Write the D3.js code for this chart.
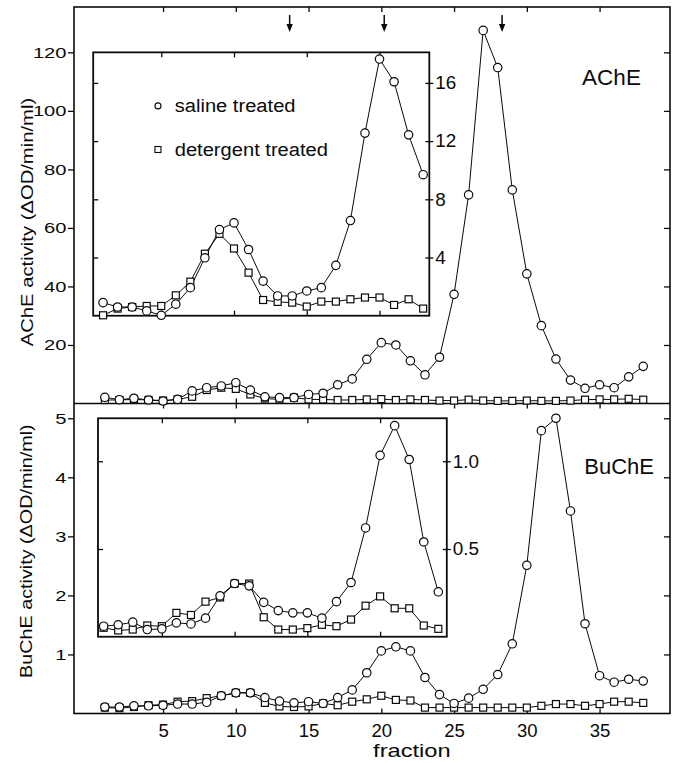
<!DOCTYPE html>
<html>
<head>
<meta charset="utf-8">
<script src="https://cdn.jsdelivr.net/npm/d3@7"></script>
<style>
  html, body { margin: 0; padding: 0; background: #fff; }
  svg { display: block; font-family: "Liberation Sans", Arial, Helvetica, sans-serif; }
</style>
</head>
<body>
<svg id="chart" width="676" height="763"></svg>
<script>
// ---- data -------------------------------------------------------------
const fraction = [1,2,3,4,5,6,7,8,9,10,11,12,13,14,15,16,17,18,19,20,
                  21,22,23,24,25,26,27,28,29,30,31,32,33,34,35,36,37,38];

// AChE, main panel (ΔOD/min/ml)
const acheSaline = [2.1,1.3,1.8,1.2,0.85,1.4,4.3,5.4,6.0,7.1,4.6,2.3,2.0,2.0,3.1,3.5,6.4,8.4,15.1,20.8,
                    20.0,14.6,9.8,15.8,37.3,71.3,127.5,114.8,73.0,44.3,26.6,15.2,8.0,5.2,6.4,5.4,9.1,12.7];
const acheDetergent = [1.2,1.2,1.4,1.2,1.0,1.4,2.3,4.6,5.4,5.0,3.1,1.7,1.4,2.0,1.4,1.4,1.2,1.2,1.4,1.5,
                       1.2,1.4,1.2,1.0,1.0,1.3,1.0,0.9,0.9,1.0,0.9,0.9,1.0,1.3,1.4,1.4,1.6,1.3];

// AChE, inset (right-hand scale)
const acheInsetFraction = [1,2,3,4,5,6,7,8,9,10,11,12,13,14,15,16,17,18,19,20,21,22,23];
const acheInsetSaline = [0.90,0.60,0.60,0.33,0.03,0.79,1.93,3.98,5.92,6.38,4.55,2.38,1.36,1.36,1.70,1.93,
                         3.46,6.54,12.55,17.64,16.08,12.43,9.69];
const acheInsetDetergent = [0.03,0.49,0.60,0.67,0.67,1.40,2.34,4.26,5.63,4.62,2.96,1.08,0.95,0.90,0.63,0.97,
                            0.97,1.13,1.25,1.25,0.74,1.13,0.49];

// BuChE, main panel
const bucheSaline = [0.11,0.11,0.13,0.13,0.14,0.16,0.16,0.19,0.30,0.35,0.35,0.27,0.21,0.18,0.20,0.17,0.27,0.40,0.69,1.06,
                     1.13,1.06,0.61,0.32,0.17,0.26,0.41,0.66,1.18,2.51,4.79,5.00,3.43,1.52,0.64,0.53,0.58,0.55];
const bucheDetergent = [0.10,0.09,0.11,0.14,0.15,0.20,0.21,0.26,0.30,0.35,0.35,0.18,0.12,0.11,0.12,0.17,0.14,0.20,0.24,0.30,
                        0.23,0.22,0.10,0.10,0.10,0.10,0.10,0.10,0.10,0.10,0.13,0.16,0.16,0.13,0.16,0.20,0.20,0.18];

// BuChE, inset (right-hand scale)
const bucheInsetFraction = [1,2,3,4,5,6,7,8,9,10,11,12,13,14,15,16,17,18,19,20,21,22,23,24];
const bucheInsetSaline = [0.060,0.068,0.083,0.041,0.045,0.079,0.073,0.106,0.233,0.303,0.290,0.196,0.149,0.136,0.136,0.106,
                          0.200,0.309,0.620,1.034,1.203,1.010,0.540,0.256];
const bucheInsetDetergent = [0.051,0.036,0.041,0.064,0.060,0.136,0.124,0.200,0.224,0.303,0.303,0.111,0.041,0.041,0.049,0.068,
                             0.060,0.098,0.177,0.230,0.162,0.162,0.064,0.045];

// axis ticks and markers
const fractionTicks = [5,10,15,20,25,30,35];
const insetFractionTicks = [5,10,15,20];
const acheTicks = [20,40,60,80,100,120];
const bucheTicks = [1,2,3,4,5];
const acheInsetTicks = [4,8,12,16];
const bucheInsetTicks = [0.5,1.0];
const bucheInsetTickLabels = ["0.5","1.0"];
const arrowFractions = [13.7,20.2,28.3];
const legendLabels = ["saline treated","detergent treated"];

// ---- layout -----------------------------------------------------------
const svg = d3.select("#chart");
const L = 74, R = 670, T = 7, M = 403.5, B = 713.5;
const ink = "#0a0a0a";

const x = d3.scaleLinear().domain([-1.12, 39.84]).range([L, R]);
const yA = d3.scaleLinear().domain([0, 135.5]).range([M, T]);
const yB = d3.scaleLinear().domain([0, 5.25]).range([B, M]);

// insets: frame given in main-panel units, inner scales on their own domains
const insetA = { f0: 0.2, f1: 23.3, v0: 30, v1: 120, y: yA, max: 18.1, shift: -1.8 };
const insetB = { f0: 0.53, f1: 24.5, v0: 1.3, v1: 5.0, y: yB, max: 1.245, shift: -1.2 };

// widen glyphs horizontally around each label's anchor point
function stretch(sel, sx) {
  sel.each(function () {
    const t = d3.select(this);
    const tx = +t.attr("x") || 0, ty = +t.attr("y") || 0;
    t.attr("x", 0).attr("y", 0).attr("transform", `translate(${tx},${ty}) scale(${sx},1)`);
  });
}

function styleAxis(g) {
  g.select(".domain").remove();
  g.selectAll(".tick line").attr("stroke", ink).attr("stroke-width", 1.3);
  g.selectAll("text").attr("fill", ink).attr("font-family", null);
}

// ---- main frame and axes --------------------------------------------
const gAxes = svg.append("g");

// upper panel left (labelled) and right (inner) ticks
gAxes.append("g").attr("transform", `translate(${L},0)`)
  .call(d3.axisLeft(yA).tickValues(acheTicks).tickSize(6).tickPadding(1.5).tickFormat(d3.format("d")))
  .call(styleAxis)
  .call(g => g.selectAll("text").attr("font-size", 15.5).call(stretch, 1.3));
gAxes.append("g").attr("transform", `translate(${R},0)`)
  .call(d3.axisRight(yA).tickValues(acheTicks).tickSize(-6).tickFormat(""))
  .call(styleAxis);

// lower panel left and right ticks
gAxes.append("g").attr("transform", `translate(${L},0)`)
  .call(d3.axisLeft(yB).tickValues(bucheTicks).tickSize(6).tickPadding(1.5).tickFormat(d3.format("d")))
  .call(styleAxis)
  .call(g => g.selectAll("text").attr("font-size", 15.5).call(stretch, 1.3));
gAxes.append("g").attr("transform", `translate(${R},0)`)
  .call(d3.axisRight(yB).tickValues(bucheTicks).tickSize(-6).tickFormat(""))
  .call(styleAxis);

// top, divider and bottom fraction ticks
gAxes.append("g").attr("transform", `translate(0,${T})`)
  .call(d3.axisTop(x).tickValues(fractionTicks).tickSize(-5).tickFormat(""))
  .call(styleAxis);
gAxes.append("g").attr("transform", `translate(0,${M})`)
  .call(d3.axisTop(x).tickValues(fractionTicks).tickSize(5).tickFormat(""))
  .call(styleAxis);
gAxes.append("g").attr("transform", `translate(0,${M})`)
  .call(d3.axisBottom(x).tickValues(fractionTicks).tickSize(5).tickFormat(""))
  .call(styleAxis);
gAxes.append("g").attr("transform", `translate(0,${B})`)
  .call(d3.axisBottom(x).tickValues(fractionTicks).tickSize(-5).tickPadding(10).tickFormat(d3.format("d")))
  .call(styleAxis)
  .call(g => g.selectAll("text").attr("font-size", 18.5));

// frame
svg.append("rect").attr("x", L).attr("y", T).attr("width", R - L).attr("height", B - T)
  .attr("fill", "none").attr("stroke", ink).attr("stroke-width", 1.6);
svg.append("line").attr("x1", L).attr("x2", R).attr("y1", M).attr("y2", M)
  .attr("stroke", ink).attr("stroke-width", 1.6);

// axis titles
svg.append("text").attr("font-size", 16.2).attr("fill", ink)
  .attr("text-anchor", "middle")
  .attr("transform", `translate(33,${yA(62)}) rotate(-90) scale(1.25,1)`)
  .text("AChE activity (ΔOD/min/ml)");
svg.append("text").attr("font-size", 16.2).attr("fill", ink)
  .attr("text-anchor", "middle")
  .attr("transform", `translate(32,${yB(2.75)}) rotate(-90) scale(1.22,1)`)
  .text("BuChE activity (ΔOD/min/ml)");
svg.append("text").attr("font-size", 18.5).attr("fill", ink)
  .attr("text-anchor", "middle")
  .attr("transform", `translate(${x(22.1)},757) scale(1.28,1)`)
  .text("fraction");

// panel names
svg.append("text").attr("font-size", 22.5).attr("fill", ink)
  .attr("x", x(33.8)).attr("y", yA(109)).text("AChE");
svg.append("text").attr("font-size", 22).attr("fill", ink)
  .attr("x", x(33.95)).attr("y", yB(4.06)).text("BuChE");

// arrows above the upper panel
const arrows = svg.append("g").attr("fill", ink).attr("stroke", ink);
arrowFractions.forEach(f => {
  const ax = x(f);
  arrows.append("line").attr("x1", ax).attr("x2", ax).attr("y1", 15).attr("y2", 26).attr("stroke-width", 1.5);
  arrows.append("path").attr("stroke", "none")
    .attr("d", `M${ax - 3.2},${24} L${ax + 3.2},${24} L${ax},${32} Z`);
});

// ---- series drawing --------------------------------------------------
function drawSeries(g, xs, ys, fr, vals) {
  const pts = fr.map((f, i) => ({ f, v: vals[i] }));
  g.append("path").datum(pts)
    .attr("fill", "none").attr("stroke", ink).attr("stroke-width", 1)
    .attr("d", d3.line().x(d => xs(d.f)).y(d => ys(d.v)));
  return pts;
}
function drawMarkers(g, xs, ys, pts, shape) {
  if (shape === "circle") {
    g.selectAll(null).data(pts).enter().append("circle")
      .attr("cx", d => xs(d.f)).attr("cy", d => ys(d.v)).attr("r", 4.2)
      .attr("fill", "#fff").attr("stroke", ink).attr("stroke-width", 1.2);
  } else {
    g.selectAll(null).data(pts).enter().append("rect")
      .attr("x", d => xs(d.f) - 3.5).attr("y", d => ys(d.v) - 3.5)
      .attr("width", 7).attr("height", 7)
      .attr("fill", "#fff").attr("stroke", ink).attr("stroke-width", 1.2);
  }
}

function panel(ys, saline, detergent) {
  const g = svg.append("g");
  const pd = drawSeries(g, x, ys, fraction, detergent);
  const ps = drawSeries(g, x, ys, fraction, saline);
  drawMarkers(g, x, ys, pd, "square");
  drawMarkers(g, x, ys, ps, "circle");
}
panel(yA, acheSaline, acheDetergent);
panel(yB, bucheSaline, bucheDetergent);

// ---- insets ----------------------------------------------------------
function inset(cfg, fr, saline, detergent, ticks, tickLabels) {
  const x0 = x(cfg.f0), x1 = x(cfg.f1);
  const y0 = cfg.y(cfg.v0), y1 = cfg.y(cfg.v1);
  const xi = d3.scaleLinear().domain(x.domain()).range(x.range().map(r => r + cfg.shift));
  const yi = d3.scaleLinear().domain([0, cfg.max]).range([y0, y1]);
  const g = svg.append("g");

  g.append("rect").attr("x", x0).attr("y", y1).attr("width", x1 - x0).attr("height", y0 - y1)
    .attr("fill", "#fff").attr("stroke", ink).attr("stroke-width", 1.8);

  const axisR = d3.axisRight(yi).tickValues(ticks).tickSize(4).tickPadding(2);
  axisR.tickFormat(tickLabels ? (d, i) => tickLabels[i] : d3.format("d"));
  g.append("g").attr("transform", `translate(${x1},0)`).call(axisR).call(styleAxis)
    .call(s => s.selectAll("text").attr("font-size", 18).call(stretch, 1.05));
  g.append("g").attr("transform", `translate(${x1},0)`)
    .call(d3.axisLeft(yi).tickValues(ticks).tickSize(4).tickFormat("")).call(styleAxis);
  g.append("g").attr("transform", `translate(${x0},0)`)
    .call(d3.axisRight(yi).tickValues(ticks).tickSize(5).tickFormat("")).call(styleAxis);
  g.append("g").attr("transform", `translate(0,${y1})`)
    .call(d3.axisBottom(xi).tickValues(insetFractionTicks).tickSize(5).tickFormat("")).call(styleAxis);
  g.append("g").attr("transform", `translate(0,${y0})`)
    .call(d3.axisTop(xi).tickValues(insetFractionTicks).tickSize(5).tickFormat("")).call(styleAxis);

  const pd = drawSeries(g, xi, yi, fr, detergent);
  const ps = drawSeries(g, xi, yi, fr, saline);
  drawMarkers(g, xi, yi, pd, "square");
  drawMarkers(g, xi, yi, ps, "circle");
}
inset(insetA, acheInsetFraction, acheInsetSaline, acheInsetDetergent, acheInsetTicks, null);
inset(insetB, bucheInsetFraction, bucheInsetSaline, bucheInsetDetergent, bucheInsetTicks, bucheInsetTickLabels);

// legend inside the AChE inset
const legend = svg.append("g");
const legendY = [yA(101.7), yA(86.8)];
legend.append("circle").attr("cx", x(4.65)).attr("cy", legendY[0]).attr("r", 3)
  .attr("fill", "#fff").attr("stroke", ink).attr("stroke-width", 1.1);
legend.append("rect").attr("x", x(4.65) - 3).attr("y", legendY[1] - 3).attr("width", 6).attr("height", 6)
  .attr("fill", "#fff").attr("stroke", ink).attr("stroke-width", 1.1);
legendLabels.forEach((t, i) => {
  legend.append("text").attr("font-size", 19).attr("fill", ink)
    .attr("transform", `translate(${x(5.8)},${legendY[i] + 6.5}) scale(1.06,1)`)
    .text(t);
});
</script>
</body>
</html>
